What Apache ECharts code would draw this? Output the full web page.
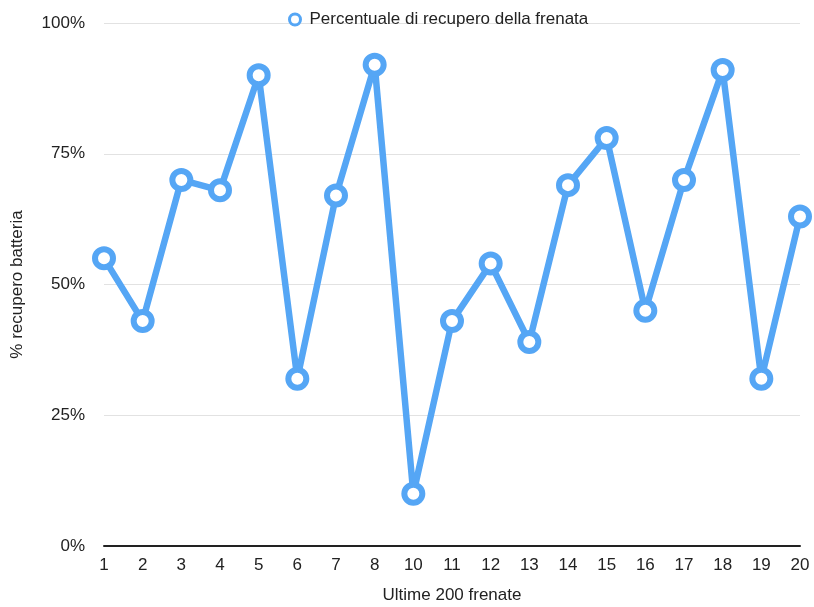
<!DOCTYPE html>
<html lang="it">
<head>
<meta charset="UTF-8">
<title>Recupero frenata</title>
<script src="https://cdn.jsdelivr.net/npm/echarts@6/dist/echarts.min.js"></script>
<style>
  html, body { margin: 0; padding: 0; background: #fff; }
  #chart { width: 814px; height: 607px; }
</style>
</head>
<body>
<div id="chart"></div>
<script>
// categorie (manca la 9 nell'originale)
var frenate = ['1', '2', '3', '4', '5', '6', '7', '8', '10', '11', '12', '13', '14', '15', '16', '17', '18', '19', '20'];
var recupero = [55, 43, 70, 68, 90, 32, 67, 92, 10, 43, 54, 39, 69, 78, 45, 70, 91, 32, 63];
var yTicks = [0, 25, 50, 75, 100];

var chart = echarts.init(document.getElementById('chart'), null, { renderer: 'canvas' });
var blu = '#55a6f5';
var font = 'Liberation Sans, Arial, sans-serif';

var option = {
    animation: false,
    textStyle: { fontFamily: font },
    legend: {
        top: 6,
        left: 283,
        itemWidth: 11,
        itemHeight: 11,
        itemGap: 6,
        textStyle: { fontSize: 17, color: '#222', fontFamily: font, padding: [0, 0, 0, 4] },
        data: [{
            name: 'Percentuale di recupero della frenata',
            icon: 'circle',
            itemStyle: { color: '#fff', borderColor: blu, borderWidth: 3 }
        }]
    },
    grid: { left: 104, right: 14, top: 23, bottom: 61, outerBoundsMode: 'none' },
    xAxis: {
        type: 'category',
        boundaryGap: false,
        data: frenate,
        name: 'Ultime 200 frenate',
        nameLocation: 'middle',
        nameGap: 41,
        nameTextStyle: { fontSize: 17, color: '#222' },
        axisLine: { lineStyle: { color: '#222', width: 2 } },
        axisTick: { show: false },
        axisLabel: { fontSize: 17, color: '#222', margin: 11 }
    },
    yAxis: {
        type: 'value',
        min: yTicks[0],
        max: yTicks[yTicks.length - 1],
        interval: 25,
        name: '% recupero batteria',
        nameLocation: 'middle',
        nameGap: 78,
        nameTextStyle: { fontSize: 17, color: '#222' },
        axisLine: { show: false },
        axisTick: { show: false },
        axisLabel: { fontSize: 17, color: '#222', margin: 19, formatter: '{value}%' },
        splitLine: { lineStyle: { color: '#e2e2e2', width: 1 } }
    },
    series: [{
        name: 'Percentuale di recupero della frenata',
        type: 'line',
        data: recupero,
        symbol: 'circle',
        symbolSize: 18,
        itemStyle: { color: '#fff', borderColor: blu, borderWidth: 6 },
        lineStyle: { color: blu, width: 6.5 }
    }]
};

chart.setOption(option);
</script>
</body>
</html>
